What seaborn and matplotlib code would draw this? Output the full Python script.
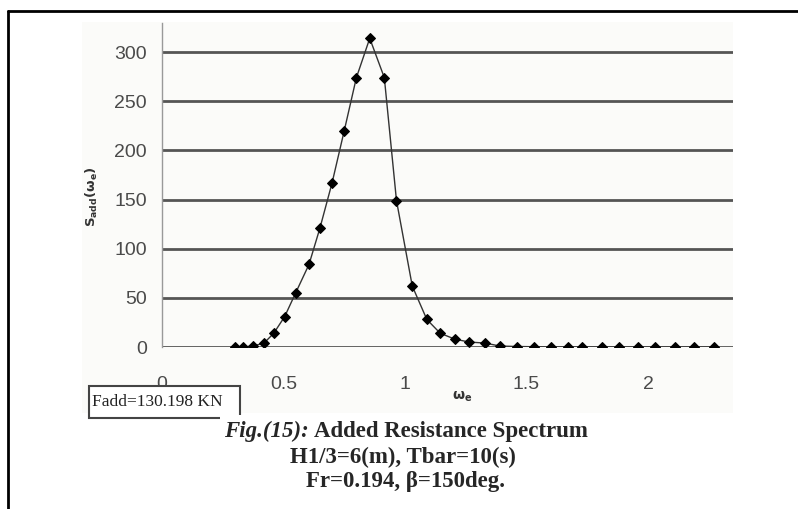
import numpy as np
import pandas as pd
import matplotlib
matplotlib.use("Agg")
import matplotlib.pyplot as plt
from matplotlib.lines import Line2D
from matplotlib.patches import Rectangle
import seaborn as sns

# encounter frequency (rad/s) and added resistance spectrum
omega = [0.30, 0.335, 0.375, 0.42, 0.46, 0.505, 0.55, 0.605, 0.65, 0.70,
         0.75, 0.80, 0.855, 0.915, 0.965, 1.03, 1.09, 1.145, 1.205, 1.265,
         1.33, 1.39, 1.46, 1.53, 1.60, 1.67, 1.73, 1.81, 1.88, 1.96,
         2.03, 2.11, 2.19, 2.27]
s_add = [0, 0, 1, 4, 14, 31, 55, 84, 121, 167,
         220, 274, 314, 274, 149, 62, 28, 14, 8, 5,
         4, 1, 0.5, 0.3, 0, 0, 0, 0, 0, 0,
         0, 0, 0, 0]
y_ticks = [0, 50, 100, 150, 200, 250, 300]
x_ticks = [0, 0.5, 1, 1.5, 2]
x_labels = ["0", "0.5", "1", "1.5", "2"]
fadd_text = "Fadd=130.198 KN"
caption = ["H1/3=6(m), Tbar=10(s)", "Fr=0.194, \u03b2=150deg."]

sns.set_style("white")
plt.rcParams["font.family"] = ["Liberation Sans", "DejaVu Sans"]

W, H = 798, 509
fig = plt.figure(figsize=(W / 100, H / 100), dpi=100)


def fx(px):
    return px / W


def fy(py):
    return 1 - py / H


# light chart-area background
fig.add_artist(Rectangle((fx(82), fy(413)), fx(733 - 82), fy(22) - fy(413),
                         transform=fig.transFigure, facecolor="#fbfbf9",
                         edgecolor="none", zorder=0))

ax = fig.add_axes([fx(162), fy(347), fx(733 - 162), fy(23) - fy(347)])
ax.set_facecolor("none")

df = pd.DataFrame({"omega": omega, "S": s_add})
sns.lineplot(data=df, x="omega", y="S", ax=ax, color="#333333", linewidth=1.0,
             marker="D", markersize=5.5, markerfacecolor="black",
             markeredgecolor="black", zorder=5)

ax.set_xlim(0, 2.35)
ax.set_ylim(0, 329.6)
ax.set_yticks(y_ticks)
ax.set_xticks(x_ticks)
ax.set_xticklabels(x_labels)
for y in y_ticks:
    ax.axhline(y, color="#555555", linewidth=2.0, zorder=1)

for side in ["top", "right", "bottom"]:
    ax.spines[side].set_visible(False)
ax.spines["left"].set_color("#999999")
ax.spines["left"].set_linewidth(1.0)
ax.tick_params(axis="y", length=5, width=1.5, color="#555555", pad=6,
               labelsize=14, labelcolor="#4a4a4a")
ax.tick_params(axis="x", length=6, width=1.0, color="#777777", pad=15,
               labelsize=14, labelcolor="#4a4a4a", direction="out")
ax.set_xlabel("")
ax.set_ylabel("")

# axis titles
fig.text(fx(92), fy(197), r"$\mathbf{S_{add}(\omega_e)}$", rotation=90,
         ha="center", va="center", fontsize=9.5, color="#333333")
fig.text(fx(462), fy(397), r"$\mathbf{\omega_e}$", ha="center", va="center",
         fontsize=10, color="#333333")

# Fadd text box
fig.add_artist(Rectangle((fx(89), fy(418)), fx(240 - 89), fy(386) - fy(418),
                         transform=fig.transFigure, facecolor="white",
                         edgecolor="#444444", linewidth=1.5, zorder=6))
fig.text(fx(92), fy(402), fadd_text, ha="left", va="center", fontsize=12.5,
         family=["Liberation Serif", "DejaVu Serif"], color="#222222", zorder=7)

# caption block (white area)
fig.add_artist(Rectangle((fx(220), 0), fx(595 - 220), fy(415),
                         transform=fig.transFigure, facecolor="white",
                         edgecolor="none", zorder=8))
serif = ["Liberation Serif", "DejaVu Serif"]
fig.text(fx(224), fy(431), "Fig.(15):", ha="left", va="center",
         fontsize=16.5, style="italic", weight="bold", family=serif, zorder=9)
fig.text(fx(588), fy(431), "Added Resistance Spectrum", ha="right", va="center",
         fontsize=16.5, weight="bold", family=serif, zorder=9)
fig.text(fx(403), fy(457), caption[0], ha="center", va="center",
         fontsize=16.5, weight="bold", family=serif, zorder=9)
fig.text(fx(406), fy(481), caption[1], ha="center", va="center",
         fontsize=16.5, weight="bold", family=serif, zorder=9)

# outer frame (top and left edges)
fig.add_artist(Line2D([fx(8), 1], [fy(11), fy(11)], color="black",
                      linewidth=2.0, transform=fig.transFigure))
fig.add_artist(Line2D([fx(8), fx(8)], [fy(11), 0], color="black",
                      linewidth=2.0, transform=fig.transFigure))

fig.savefig("out.png", dpi=100)
